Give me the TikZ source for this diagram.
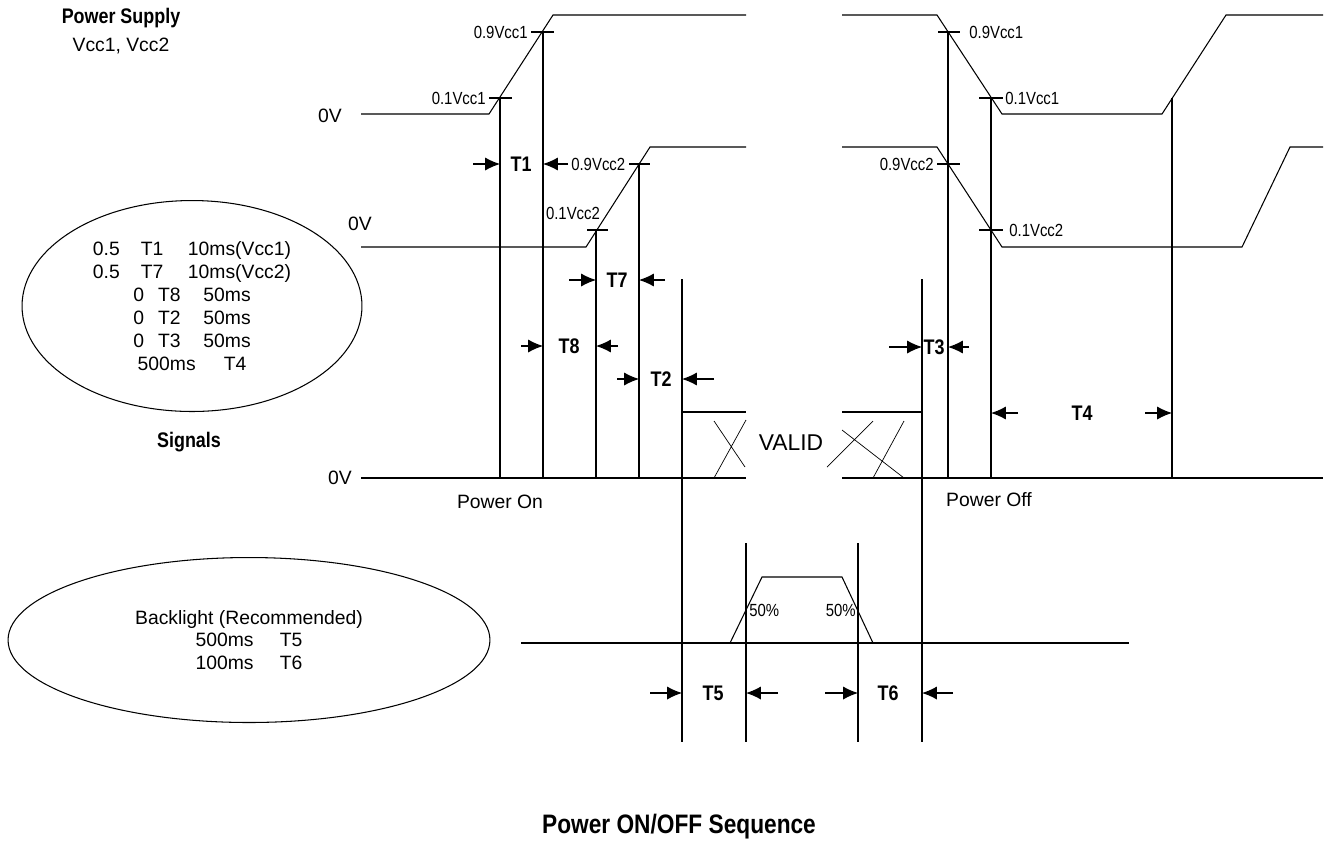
\documentclass[tikz,border=0pt]{standalone}
\usepackage{fontspec}
\setmainfont{Liberation Sans}
\newfontfamily\narrowfont{Liberation Sans}[FakeStretch=0.85]
\usetikzlibrary{shapes,arrows.meta,positioning,calc}

\begin{document}
\begin{tikzpicture}[x=0.02cm, y=-0.02cm, line width=0.6pt,
    lbl/.style={font=\fontsize{11}{13}\selectfont, inner sep=1pt},
    lvl/.style={font=\narrowfont\fontsize{10}{11}\selectfont, inner sep=1pt},
    tname/.style={font=\narrowfont\bfseries\fontsize{12}{13}\selectfont, inner sep=0pt},
    head/.style={font=\narrowfont\bfseries\fontsize{12}{13}\selectfont},
    dim/.style={-{Latex[length=8.5pt,width=7.5pt]}},
    note/.style={draw, ellipse, inner sep=0pt, align=center, font=\fontsize{11}{13}\selectfont}]
    \useasboundingbox (0,0) rectangle (1331,850);

    % Headings and the two notes
    \node[head] (psup) at (121,18) {Power Supply};
    \node[lbl] (vccs) at (121,46) {Vcc1, Vcc2};
    \node[note, minimum width=6.8cm, minimum height=4.22cm] (signote) at (192,306)
      {0.5\hspace{12pt}T1\hspace{14pt}10ms(Vcc1)\\
       0.5\hspace{12pt}T7\hspace{14pt}10ms(Vcc2)\\
       0\hspace{8pt}T8\hspace{13pt}50ms\\
       0\hspace{8pt}T2\hspace{13pt}50ms\\
       0\hspace{8pt}T3\hspace{13pt}50ms\\
       500ms\hspace{16pt}T4};
    \node[head] (sig) at (189,442) {Signals};
    \node[note, minimum width=9.64cm, minimum height=3.3cm] (blnote) at (249,640)
      {Backlight (Recommended)\\
       500ms\hspace{15pt}T5\\
       100ms\hspace{15pt}T6};
    \node[font=\narrowfont\bfseries\fontsize{15.2}{17}\selectfont] (title) at (679,827) {Power ON/OFF Sequence};

    % Vcc1 and Vcc2
    \node[lbl] (zvcc1) at (330,116) {0V};
    \node[lbl] (zvcc2) at (360,224) {0V};
    \draw (361,114) -- (489,114) -- (553,15) -- (746,15);
    \draw (361,247) -- (586,247) -- (650,147) -- (746,147);
    \draw (842,15) -- (937,15) -- (1002,114) -- (1162,114) -- (1226,15) -- (1323,15);
    \draw (842,147) -- (937,147) -- (1002,247) -- (1242,247) -- (1290,147) -- (1323,147);

    % level marks
    \draw (489,98) -- (512,98);   \node[lvl, anchor=east] (l1a) at (488,98) {0.1Vcc1};
    \draw (531,32) -- (554,32);   \node[lvl, anchor=east] (l9a) at (530,32) {0.9Vcc1};
    \draw (587,230) -- (608,230); \node[lvl] (l1b) at (573,213) {0.1Vcc2};
    \draw (629,164) -- (650,164); \node[lvl, anchor=west] (l9b) at (569,164) {0.9Vcc2};
    \draw (938,32) -- (960,32);   \node[lvl, anchor=west] (r9a) at (967,32) {0.9Vcc1};
    \draw (979,98) -- (1003,98);  \node[lvl, anchor=west] (r1a) at (1003,98) {0.1Vcc1};
    \draw (937,164) -- (960,164); \node[lvl, anchor=east] (r9b) at (936,164) {0.9Vcc2};
    \draw (979,230) -- (1003,230); \node[lvl, anchor=west] (r1b) at (1007,230) {0.1Vcc2};

    % Signals
    \node[lbl] (zsig) at (340,478) {0V};
    \draw (361,478) -- (746,478);
    \draw (842,478) -- (1323,478);
    \draw (682,412) -- (746,412);
    \draw (842,412) -- (922,412);
    \draw[line width=0.4pt] (714,478) -- (746,420) (714,421) -- (745,467);
    \draw[line width=0.4pt] (827,467) -- (873,421) (842,430) -- (904,478) (873,478) -- (904,421);
    \node[font=\fontsize{13}{15}\selectfont] (valid) at (791,443) {VALID};
    \node[lbl] (pon) at (500,502) {Power On};
    \node[lbl] (poff) at (989,500) {Power Off};

    % Backlight
    \draw (521,643) -- (1129,643);
    \draw (730,643) -- (762,577) -- (842,577) -- (873,643);
    \node[lvl, anchor=west] (bl50a) at (747,610) {50\%};
    \node[lvl, anchor=east] (bl50b) at (858,610) {50\%};

    % timing lines
    \draw (500,98) -- (500,478);
    \draw (543,32) -- (543,478);
    \draw (596,230) -- (596,478);
    \draw (639,164) -- (639,478);
    \draw (682,279) -- (682,742);
    \draw (746,543) -- (746,742);
    \draw (858,543) -- (858,742);
    \draw (922,279) -- (922,742);
    \draw (948,32) -- (948,478);
    \draw (991,98) -- (991,478);
    \draw (1172,98) -- (1172,478);

    % T1..T8
    \draw[dim] (473,164) -- (500,164); \node[tname] (t1) at (521,164) {T1}; \draw[dim] (568,164) -- (543,164);
    \draw[dim] (569,280) -- (596,280); \node[tname] (t7) at (617,280) {T7}; \draw[dim] (665,280) -- (639,280);
    \draw[dim] (521,346) -- (543,346); \node[tname] (t8) at (569,346) {T8}; \draw[dim] (618,346) -- (596,346);
    \draw[dim] (617,379) -- (639,379); \node[tname] (t2) at (661,379) {T2}; \draw[dim] (714,379) -- (682,379);
    \draw[dim] (889,347) -- (922,347); \node[tname] (t3) at (934,347) {T3}; \draw[dim] (969,347) -- (948,347);
    \draw[dim] (1018,413) -- (991,413); \node[tname] (t4) at (1082,413) {T4}; \draw[dim] (1145,413) -- (1172,413);
    \draw[dim] (650,693) -- (682,693); \node[tname] (t5) at (713,693) {T5}; \draw[dim] (778,693) -- (746,693);
    \draw[dim] (825,693) -- (858,693); \node[tname] (t6) at (888,693) {T6}; \draw[dim] (953,693) -- (922,693);
\end{tikzpicture}
\end{document}
